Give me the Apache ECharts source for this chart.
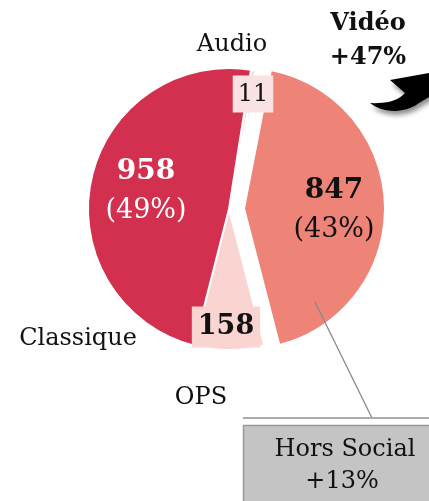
<!DOCTYPE html>
<html><head><meta charset="utf-8">
<script src="https://cdn.jsdelivr.net/npm/echarts@6/dist/echarts.min.js"></script>
<style>html,body{margin:0;padding:0;background:#fff;overflow:hidden}#c{width:429px;height:501px}</style>
</head><body><div id="c"></div>
<script>
// ---- data ----
const categories = ['Audio', 'Vidéo', 'OPS', 'Classique'];
const values = [11, 847, 158, 958];
const calloutTop = ['Vidéo', '+47%'];
const calloutBox = ['Hors Social', '+13%'];

// ---- style / layout ----
const FONT = 'DejaVu Serif';
const colors = ['#FADDE1', '#EE8478', '#F9D4D1', '#D32F4E'];
const labelPos = [[253, 94], [334, 210], [226, 327], [146, 191]];
const namePos = [[232, 45], null, [201, 398], [78, 339]];
const CENTER = [229, 209], RADIUS = 141, START = 81, EXPLODE = 15, EXPLODED = 1;

// direction of the exploded slice (mid-angle of its arc)
const total = values.reduce((a, b) => a + b, 0);
let before = 0;
for (let i = 0; i < EXPLODED; i++) before += values[i];
const midDeg = START - (before + values[EXPLODED] / 2) / total * 360;
const exCenter = [CENTER[0] + EXPLODE * Math.cos(midDeg * Math.PI / 180),
                  CENTER[1] - EXPLODE * Math.sin(midDeg * Math.PI / 180)];

const chart = echarts.init(document.getElementById('c'), null, {renderer: 'canvas'});

const hidden = {color: 'rgba(0,0,0,0)', borderColor: 'rgba(0,0,0,0)', borderWidth: 0};
const mainData = categories.map((c, i) => ({
  name: c, value: values[i],
  itemStyle: i === EXPLODED ? hidden : {color: colors[i]},
  label: {show: i !== EXPLODED}
}));
const explodedData = categories.map((c, i) => ({
  name: c, value: values[i],
  itemStyle: i === EXPLODED ? {color: colors[i]} : hidden,
  label: {show: i === EXPLODED}
}));

function fmt(p) {
  const pct = Math.round(p.percent);
  if (p.dataIndex === 0) return '{box1|' + p.value + '}';
  if (p.dataIndex === 2) return '{box2|' + p.value + '}';
  if (p.dataIndex === 1) return '{bk|' + p.value + '}\n{rk|(' + pct + '%)}';
  return '{bw|' + p.value + '}\n{rw|(' + pct + '%)}';
}

// cubic bezier sampler for the decorative arrow outline
function bez(p0, p1, p2, p3, n) {
  const out = [];
  for (let k = 1; k <= n; k++) {
    const t = k / n, u = 1 - t;
    out.push([
      u*u*u*p0[0] + 3*u*u*t*p1[0] + 3*u*t*t*p2[0] + t*t*t*p3[0],
      u*u*u*p0[1] + 3*u*u*t*p1[1] + 3*u*t*t*p2[1] + t*t*t*p3[1]
    ]);
  }
  return out;
}
const arrowPts = [[370, 103]]
  .concat(bez([370, 103], [385, 104], [398, 101], [405, 93], 10))
  .concat([[390, 80], [429, 73], [445, 70], [445, 94], [429, 97], [419, 103]])
  .concat(bez([419, 103], [408, 112], [385, 115], [370, 103], 10));

const graphics = [];
categories.forEach((c, i) => {
  if (!namePos[i]) return;
  graphics.push({type: 'text', x: namePos[i][0], y: namePos[i][1], z: 20,
    style: {text: c, font: '24px "' + FONT + '"', fill: '#111', align: 'center', verticalAlign: 'middle'}});
});
graphics.push(
  {type: 'text', x: 368, y: 24, z: 20, style: {text: calloutTop[0], font: 'bold 24px "' + FONT + '"', fill: '#111', align: 'center', verticalAlign: 'middle'}},
  {type: 'text', x: 368, y: 58, z: 20, style: {text: calloutTop[1], font: 'bold 24px "' + FONT + '"', fill: '#111', align: 'center', verticalAlign: 'middle'}},
  {type: 'polygon', z: 20, shape: {points: arrowPts},
    style: {fill: '#000', shadowBlur: 5, shadowColor: 'rgba(0,0,0,0.45)', shadowOffsetX: 2, shadowOffsetY: 4}},
  {type: 'line', z: 20, shape: {x1: 315, y1: 302, x2: 372, y2: 418}, style: {stroke: '#888', lineWidth: 1.3}},
  {type: 'line', z: 20, shape: {x1: 243, y1: 418, x2: 429, y2: 418}, style: {stroke: '#AAAAAA', lineWidth: 2}},
  {type: 'rect', z: 20, shape: {x: 243.5, y: 425.5, width: 200, height: 90}, style: {fill: '#C4C4C4', stroke: '#999', lineWidth: 1.5}},
  {type: 'text', x: 345, y: 450, z: 21, style: {text: calloutBox[0], font: '24px "' + FONT + '"', fill: '#111', align: 'center', verticalAlign: 'middle'}},
  {type: 'text', x: 342, y: 482, z: 21, style: {text: calloutBox[1], font: '24px "' + FONT + '"', fill: '#111', align: 'center', verticalAlign: 'middle'}}
);

const labelCfg = {
  show: true,
  position: 'inside',
  formatter: fmt,
  fontFamily: FONT,
  rich: {
    box1: {fontFamily: FONT, fontSize: 24, color: '#111', backgroundColor: '#FAE1E4', padding: [7, 5, 6, 5], lineHeight: 25},
    box2: {fontFamily: FONT, fontSize: 27, fontWeight: 'bold', color: '#111', backgroundColor: '#F9D4D1', padding: [7, 6, 7, 6], lineHeight: 28},
    bk: {fontFamily: FONT, fontSize: 28, fontWeight: 'bold', color: '#111', lineHeight: 40},
    rk: {fontFamily: FONT, fontSize: 27, color: '#111', lineHeight: 38},
    bw: {fontFamily: FONT, fontSize: 28, fontWeight: 'bold', color: '#fff', lineHeight: 40},
    rw: {fontFamily: FONT, fontSize: 27, color: '#fff', lineHeight: 38}
  }
};
function layoutFn(p) {
  const pos = labelPos[p.dataIndex];
  return {x: pos[0], y: pos[1], align: 'center', verticalAlign: 'middle'};
}
const common = {
  type: 'pie', radius: RADIUS, startAngle: START, clockwise: true,
  avoidLabelOverlap: false, silent: true, selectedMode: false,
  itemStyle: {borderColor: '#fff', borderWidth: 2},
  emphasis: {disabled: true},
  label: labelCfg, labelLine: {show: false}, labelLayout: layoutFn
};

chart.setOption({
  animation: false,
  backgroundColor: '#fff',
  series: [
    Object.assign({}, common, {center: CENTER, data: mainData}),
    Object.assign({}, common, {center: exCenter, data: explodedData})
  ],
  graphic: graphics
});
</script>
</body></html>
